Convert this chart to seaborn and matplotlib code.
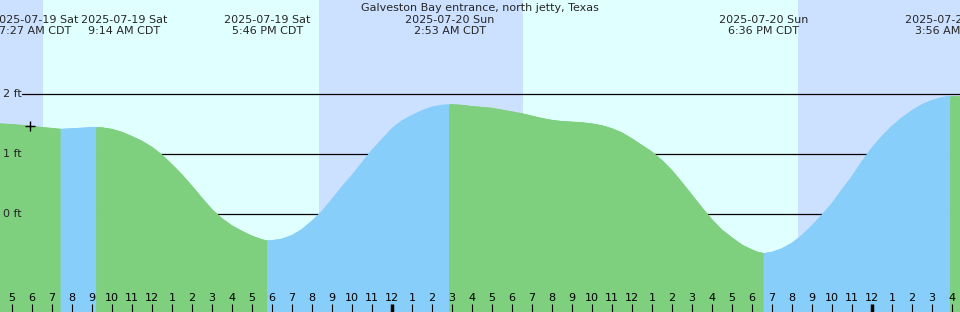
import pandas as pd
import seaborn as sns
import matplotlib.pyplot as plt
from matplotlib.transforms import blended_transform_factory

station = "Galveston Bay entrance, north jetty, Texas"
day0 = pd.Timestamp("2025-07-20 00:00")

# hours after midnight 2025-07-20, and water level in ft
hours = [-19.6, -19, -18.5, -18, -17.5, -17, -16.55, -16, -15.5, -15, -14.77, -14.5, -14, -13.5,
         -13, -12.5, -12, -11.5, -11, -10.5, -10, -9.5, -9, -8.5, -8, -7.5, -7, -6.5, -6.23, -6,
         -5.5, -5, -4.5, -4, -3.5, -3, -2.5, -2, -1.5, -1, -0.5, 0, 0.5, 1, 1.5, 2, 2.5, 2.88,
         3, 3.5, 4, 4.5, 5, 5.5, 6, 6.5, 7, 7.5, 8, 8.5, 9, 9.5, 10, 10.5, 11, 11.5, 12, 12.5,
         13, 13.5, 14, 14.5, 15, 15.5, 16, 16.5, 17, 17.5, 18, 18.3, 18.6, 19, 19.5, 20, 20.5,
         21, 21.5, 22, 22.5, 23, 23.5, 24, 24.5, 25, 25.5, 26, 26.5, 27, 27.5, 27.93, 28.4]
level = [1.50, 1.49, 1.475, 1.46, 1.44, 1.425, 1.41, 1.42, 1.43, 1.44, 1.44, 1.435, 1.41, 1.36,
         1.29, 1.21, 1.11, 0.98, 0.82, 0.65, 0.46, 0.26, 0.07, -0.08, -0.20, -0.29, -0.37, -0.43, -0.45, -0.445,
         -0.42, -0.36, -0.26, -0.12, 0.04, 0.24, 0.45, 0.64, 0.85, 1.06, 1.24, 1.42, 1.55, 1.64, 1.72, 1.78, 1.81, 1.82,
         1.82, 1.81, 1.79, 1.775, 1.76, 1.73, 1.70, 1.67, 1.63, 1.59, 1.56, 1.54, 1.53, 1.52, 1.50, 1.47, 1.42, 1.35, 1.25, 1.14,
         1.03, 0.89, 0.72, 0.52, 0.31, 0.10, -0.10, -0.27, -0.40, -0.52, -0.60, -0.64, -0.66, -0.64, -0.58, -0.49, -0.36,
         -0.20, -0.02, 0.17, 0.40, 0.62, 0.87, 1.10, 1.29, 1.46, 1.60, 1.72, 1.82, 1.89, 1.94, 1.96, 1.95]

event_times = ["2025-07-19 07:27", "2025-07-19 09:14", "2025-07-19 17:46",
               "2025-07-20 02:53", "2025-07-20 18:36", "2025-07-21 03:56"]
sun_times = ["2025-07-19 06:34", "2025-07-19 20:22", "2025-07-20 06:32", "2025-07-20 20:18"]
depths = [0, 1, 2]
now_hour, now_level = -18.1, 1.46

day_col = "#e0ffff"
night_col = "#cce0ff"
rise_col = "#87cefa"
fall_col = "#7ecf7e"
# the first two labels are pushed apart so they do not overlap
label_nudge = [-1.3, 1.39, 0, 0, 0, 0]

def to_hours(s):
    return (pd.Timestamp(s) - day0) / pd.Timedelta(hours=1)

ev = [to_hours(s) for s in event_times]
sun = [to_hours(s) for s in sun_times]
x0, x1 = hours[0], hours[-1]

# split the curve into rising / falling pieces between highs and lows
df = pd.DataFrame({"t": hours, "h": level})
bounds = [x0] + ev + [x1]
pieces = []
for i in range(len(bounds) - 1):
    seg = df[(df.t >= bounds[i] - 0.02) & (df.t <= bounds[i + 1] + 0.02)].copy()
    seg["seg"] = i
    seg["dir"] = "rise" if seg.h.iloc[-1] > seg.h.iloc[0] else "fall"
    pieces.append(seg)
tide = pd.concat(pieces, ignore_index=True)

sns.set_style("white")
plt.rcParams["font.family"] = ["DejaVu Sans"]

fig = plt.figure(figsize=(9.6, 3.12), dpi=100)
ax = fig.add_axes([0, 0, 1, 1])
ax.set_facecolor(day_col)
ax.set_xlim(x0, x1)
ax.set_ylim(-98 / 60, 214 / 60)
for s in ax.spines.values():
    s.set_visible(False)

# night shading
nights = [(x0, sun[0]), (sun[1], sun[2]), (sun[3], x1)]
for a, b in nights:
    ax.axvspan(a, b, color=night_col, lw=0, zorder=0)

for d in depths:
    ax.axhline(d, xmin=22 / 960, color="black", lw=0.9, zorder=1)

pal = {"rise": rise_col, "fall": fall_col}
for i, seg in tide.groupby("seg"):
    c = pal[seg.dir.iloc[0]]
    ax.fill_between(seg.t, seg.h, -5, facecolor=c, edgecolor=c, lw=0.6, zorder=2)
sns.lineplot(data=tide, x="t", y="h", hue="dir", units="seg", estimator=None,
             palette=pal, lw=0.8, legend=False, ax=ax, zorder=3)

ax.plot(now_hour, now_level, marker="+", ms=7, mew=1, color="black", zorder=5)

# labels of highs and lows
tr = ax.get_xaxis_transform()
for s, t, dx in zip(event_times, ev, label_nudge):
    ts = pd.Timestamp(s)
    txt = ts.strftime("%Y-%m-%d %a") + "\n" + ts.strftime("%I:%M %p CDT").lstrip("0")
    ax.text(t + dx, 1 - 15 / 312, txt, transform=tr, ha="center", va="top",
            fontsize=8, linespacing=1.1, zorder=6)
ax.text(0.5, 1 - 3 / 312, station, transform=ax.transAxes, ha="center", va="top",
        fontsize=8, zorder=6)

ytr = blended_transform_factory(ax.transAxes, ax.transData)
for d in depths:
    ax.text(3 / 960, d, f"{d} ft", transform=ytr, ha="left", va="center",
            fontsize=8, zorder=6)

# hour ticks
tick_hours = list(range(-19, 29))
ax.set_xticks(tick_hours)
ax.set_xticklabels([str((h % 24) % 12 or 12) for h in tick_hours])
ax.set_yticks([])
ax.tick_params(axis="x", direction="in", length=6, width=0.8, pad=-14,
               labelsize=8, colors="black", bottom=True)
for tk, h in zip(ax.xaxis.get_major_ticks(), tick_hours):
    if h % 24 == 0:
        tk.tick1line.set_markeredgewidth(2.5)
ax.xaxis.set_zorder(10)
ax.set_xlabel("")
ax.set_ylabel("")

fig.savefig("out.png", dpi=100)
